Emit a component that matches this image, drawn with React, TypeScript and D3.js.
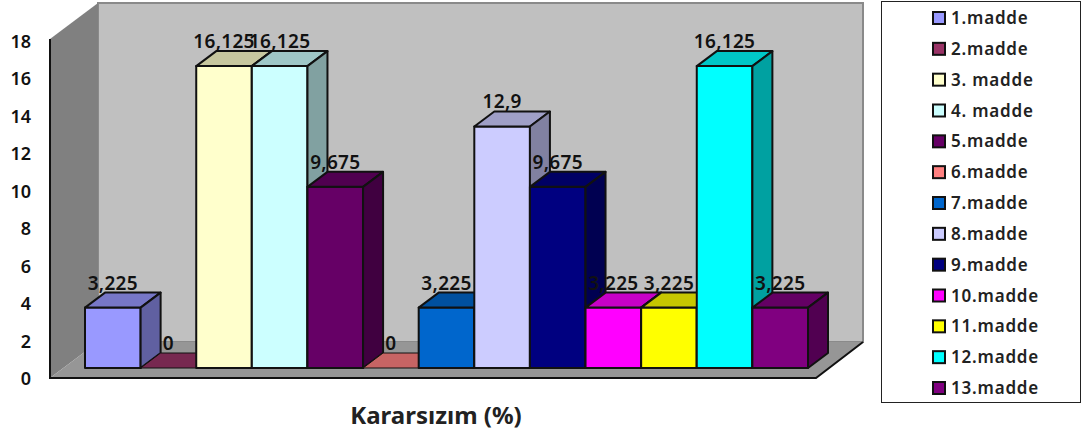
import React from "react";
import * as d3 from "d3";

const categories = ["1.madde","2.madde","3. madde","4. madde","5.madde","6.madde","7.madde","8.madde","9.madde","10.madde","11.madde","12.madde","13.madde"];
const values = [3.225,0,16.125,16.125,9.675,0,3.225,12.9,9.675,3.225,3.225,16.125,3.225];
const valueLabels = ["3,225","0","16,125","16,125","9,675","0","3,225","12,9","9,675","3,225","3,225","16,125","3,225"];
const colors = ["#9999FF","#993366","#FFFFCC","#CCFFFF","#660066","#FF8080","#0066CC","#CCCCFF","#000080","#FF00FF","#FFFF00","#00FFFF","#800080"];
const yTicks = [0,2,4,6,8,10,12,14,16,18];
const title = "Kararsızım (%)";

const FONT = "'Noto Sans', 'Open Sans', sans-serif";
const shade = (c: string, k: number) => {
  const r = d3.rgb(c);
  return d3.rgb(r.r * k, r.g * k, r.b * k).formatHex();
};
const pts = (p: number[][]) => p.map(q => q.join(",")).join(" ");

export default function App() {
  const x = d3.scaleBand<number>().domain(categories.map((_, i) => i)).range([85, 808]).padding(0);
  const y = d3.scaleLinear().domain([0, 18]).range([368, 31]);
  const yFront = d3.scaleLinear().domain([0, 18]).range([378, 41]);
  const dx = 20, dy = -15;
  const wallDx = 48, wallDy = -36;
  const [fx0, fx1] = [50, 816];
  const [fy0, fy1] = [378, 39];
  const wallRight = 863;
  const legendY = d3.scalePoint<number>().domain(categories.map((_, i) => i)).range([18, 388]);
  const bw = x.bandwidth();
  return (
    <svg width={1082} height={436} style={{ position: "absolute", left: 0, top: 0, background: "#fff" }} fontFamily={FONT}>
      <polygon points={pts([[fx0 + wallDx, fy1 + wallDy], [wallRight, fy1 + wallDy], [wallRight, fy0 + wallDy], [fx0 + wallDx, fy0 + wallDy]])} fill="#C0C0C0" stroke="#8a8a8a" strokeWidth={2} />
      <polygon points={pts([[fx0, fy1], [fx0 + wallDx, fy1 + wallDy], [fx0 + wallDx, fy0 + wallDy], [fx0, fy0]])} fill="#808080" />
      <polygon points={pts([[fx0, fy0], [fx1, fy0], [wallRight, fy0 + wallDy], [fx0 + wallDx, fy0 + wallDy]])} fill="#969696" />
      <path d={`M${fx0},${fy1}V${fy0}H${fx1}L${wallRight},${fy0 + wallDy}`} fill="none" stroke="#111" strokeWidth={2} />
      {values.map((v, i) => {
        const l = x(i)!, r = l + bw, t = y(v), b = y(0);
        const c = colors[i];
        return (
          <g key={i} stroke="#111" strokeWidth={v === 0 ? 1 : 2} strokeLinejoin="round">
            {v > 0 && <rect x={l} y={t} width={bw} height={b - t} fill={c} />}
            <polygon points={pts([[l, t], [r, t], [r + dx, t + dy], [l + dx, t + dy]])} fill={shade(c, 0.78)} />
            {v > 0 && <polygon points={pts([[r, t], [r + dx, t + dy], [r + dx, b + dy], [r, b]])} fill={shade(c, 0.63)} />}
          </g>
        );
      })}
      {values.map((v, i) => (
        <text key={i} x={x(i)! + bw / 2} y={y(v) - 18} textAnchor="middle" fontSize={19} letterSpacing={0.3} fontWeight={600} fill="#111">{valueLabels[i]}</text>
      ))}
      {yTicks.map(t => (
        <text key={t} x={31} y={yFront(t) + 7} textAnchor="end" fontSize={18} fontWeight={600} fill="#111">{t}</text>
      ))}
      <text x={436} y={424} textAnchor="middle" fontSize={24} fontWeight={700} fill="#222">{title}</text>
      <rect x={881.5} y={1.5} width={199} height={401} fill="#fff" stroke="#222" strokeWidth={1} />
      {categories.map((c, i) => (
        <g key={c}>
          <rect x={933} y={legendY(i)! - 6} width={12} height={12} fill={colors[i]} stroke="#111" strokeWidth={2} />
          <text x={951} y={legendY(i)! + 6} fontSize={17} letterSpacing={0.8} fontWeight={600} fill="#222">{c}</text>
        </g>
      ))}
    </svg>
  );
}
